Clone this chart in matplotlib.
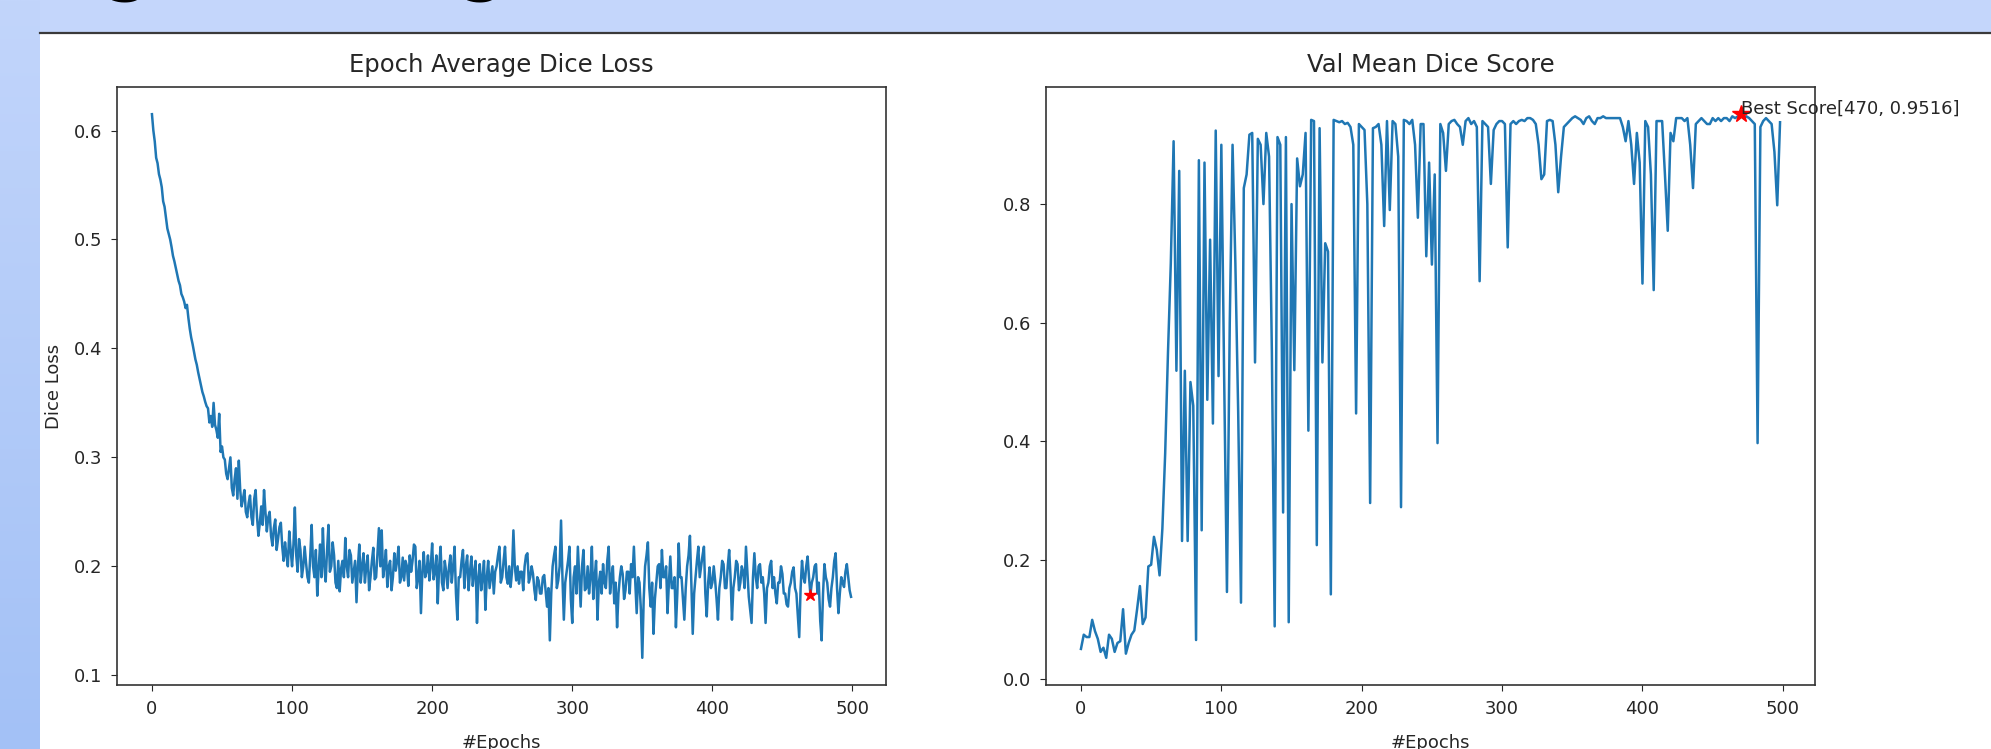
import numpy as np
import matplotlib
matplotlib.use("Agg")
import matplotlib.pyplot as plt
from matplotlib.patches import Rectangle
from matplotlib.colors import LinearSegmentedColormap

# ------------------------------------------------------------------
# data
# ------------------------------------------------------------------
train_epochs = list(range(0, 500))
val_epochs = list(range(0, 500, 2))

loss_values = [
    0.615, 0.60, 0.59, 0.575, 0.57, 0.56, 0.555, 0.548, 0.535, 0.53, 0.52, 0.51, 0.505, 0.5, 0.493, 0.485, 0.48, 0.474, 0.468, 0.462,
    0.458, 0.45, 0.447, 0.443, 0.437, 0.44, 0.428, 0.418, 0.41, 0.404, 0.397, 0.39, 0.385, 0.378, 0.372, 0.366, 0.36, 0.356, 0.351, 0.347,
    0.345, 0.332, 0.338, 0.328, 0.35, 0.33, 0.325, 0.318, 0.34, 0.305, 0.31, 0.3, 0.298, 0.285, 0.28, 0.29, 0.3, 0.272, 0.265, 0.28,
    0.29, 0.262, 0.297, 0.27, 0.255, 0.262, 0.27, 0.25, 0.245, 0.258, 0.265, 0.245, 0.238, 0.262, 0.27, 0.245, 0.228, 0.24, 0.255, 0.238,
    0.27, 0.25, 0.232, 0.245, 0.25, 0.228, 0.219, 0.235, 0.243, 0.215, 0.225, 0.236, 0.24, 0.218, 0.205, 0.222, 0.21, 0.2, 0.232, 0.215,
    0.2, 0.22, 0.254, 0.21, 0.195, 0.225, 0.215, 0.19, 0.2, 0.218, 0.203, 0.19, 0.185, 0.21, 0.238, 0.2, 0.19, 0.215, 0.173, 0.198,
    0.22, 0.19, 0.235, 0.2, 0.186, 0.215, 0.238, 0.195, 0.2, 0.222, 0.21, 0.185, 0.18, 0.205, 0.177, 0.198, 0.205, 0.19, 0.226, 0.2,
    0.19, 0.215, 0.21, 0.185, 0.195, 0.205, 0.167, 0.2, 0.22, 0.185, 0.2, 0.212, 0.185, 0.2, 0.21, 0.178, 0.19, 0.205, 0.217, 0.188,
    0.19, 0.212, 0.235, 0.2, 0.233, 0.19, 0.2, 0.215, 0.181, 0.2, 0.205, 0.178, 0.19, 0.212, 0.196, 0.205, 0.218, 0.185, 0.19, 0.208,
    0.187, 0.205, 0.2, 0.182, 0.21, 0.195, 0.205, 0.22, 0.218, 0.18, 0.19, 0.205, 0.157, 0.195, 0.213, 0.19, 0.195, 0.21, 0.187, 0.2,
    0.221, 0.188, 0.195, 0.21, 0.166, 0.2, 0.218, 0.185, 0.178, 0.205, 0.195, 0.18, 0.199, 0.21, 0.185, 0.2, 0.218, 0.175, 0.151, 0.19,
    0.19, 0.205, 0.215, 0.18, 0.2, 0.21, 0.178, 0.195, 0.209, 0.182, 0.195, 0.205, 0.148, 0.19, 0.202, 0.178, 0.19, 0.205, 0.16, 0.19,
    0.205, 0.18, 0.19, 0.2, 0.175, 0.195, 0.2, 0.21, 0.218, 0.185, 0.19, 0.205, 0.218, 0.19, 0.184, 0.2, 0.181, 0.195, 0.233, 0.2,
    0.187, 0.2, 0.184, 0.195, 0.195, 0.178, 0.2, 0.21, 0.212, 0.185, 0.19, 0.2, 0.193, 0.178, 0.169, 0.19, 0.187, 0.175, 0.175, 0.19,
    0.192, 0.178, 0.163, 0.18, 0.132, 0.175, 0.2, 0.21, 0.218, 0.18, 0.187, 0.2, 0.242, 0.19, 0.151, 0.185, 0.195, 0.205, 0.218, 0.17,
    0.148, 0.19, 0.2, 0.175, 0.218, 0.19, 0.163, 0.2, 0.215, 0.178, 0.18, 0.2, 0.175, 0.19, 0.218, 0.17, 0.19, 0.205, 0.151, 0.185,
    0.195, 0.175, 0.202, 0.185, 0.18, 0.205, 0.218, 0.175, 0.19, 0.2, 0.166, 0.185, 0.144, 0.175, 0.19, 0.2, 0.193, 0.17, 0.178, 0.195,
    0.195, 0.175, 0.202, 0.19, 0.218, 0.185, 0.157, 0.19, 0.185, 0.16, 0.116, 0.17, 0.2, 0.21, 0.222, 0.18, 0.163, 0.185, 0.138, 0.17,
    0.185, 0.2, 0.202, 0.18, 0.215, 0.19, 0.19, 0.2, 0.157, 0.185, 0.209, 0.18, 0.18, 0.19, 0.144, 0.175, 0.221, 0.19, 0.19, 0.17,
    0.151, 0.18, 0.2, 0.21, 0.228, 0.185, 0.138, 0.175, 0.19, 0.205, 0.218, 0.19, 0.2, 0.21, 0.218, 0.175, 0.154, 0.185, 0.199, 0.18,
    0.185, 0.2, 0.187, 0.17, 0.151, 0.18, 0.19, 0.205, 0.202, 0.18, 0.18, 0.2, 0.215, 0.19, 0.151, 0.18, 0.19, 0.205, 0.202, 0.178,
    0.185, 0.2, 0.195, 0.18, 0.218, 0.195, 0.172, 0.16, 0.148, 0.19, 0.212, 0.19, 0.18, 0.2, 0.202, 0.185, 0.19, 0.175, 0.148, 0.18,
    0.185, 0.2, 0.205, 0.18, 0.19, 0.175, 0.166, 0.185, 0.185, 0.2, 0.193, 0.175, 0.175, 0.165, 0.163, 0.18, 0.185, 0.195, 0.199, 0.18,
    0.175, 0.155, 0.135, 0.18, 0.205, 0.19, 0.185, 0.2, 0.209, 0.19, 0.174, 0.185, 0.19, 0.2, 0.202, 0.175, 0.185, 0.15, 0.132, 0.175,
    0.202, 0.19, 0.185, 0.17, 0.163, 0.18, 0.19, 0.205, 0.212, 0.18, 0.157, 0.175, 0.19, 0.185, 0.181, 0.195, 0.202, 0.19, 0.178, 0.172,
]

dice_values = [
    0.05, 0.074, 0.07, 0.07, 0.099, 0.08, 0.067, 0.045, 0.052, 0.035,
    0.074, 0.067, 0.045, 0.06, 0.063, 0.117, 0.042, 0.06, 0.074, 0.081,
    0.117, 0.156, 0.092, 0.103, 0.189, 0.192, 0.239, 0.217, 0.174, 0.253,
    0.38, 0.55, 0.7, 0.906, 0.519, 0.856, 0.232, 0.519, 0.232, 0.5,
    0.46, 0.065, 0.874, 0.25, 0.87, 0.47, 0.74, 0.43, 0.924, 0.51,
    0.9, 0.51, 0.146, 0.6, 0.9, 0.7, 0.45, 0.128, 0.827, 0.85,
    0.917, 0.92, 0.533, 0.91, 0.9, 0.8, 0.92, 0.88, 0.55, 0.088,
    0.913, 0.9, 0.28, 0.913, 0.095, 0.8, 0.52, 0.877, 0.83, 0.85,
    0.92, 0.418, 0.942, 0.94, 0.225, 0.928, 0.533, 0.734, 0.72, 0.142,
    0.942, 0.94, 0.938, 0.94, 0.935, 0.937, 0.93, 0.9, 0.447, 0.935,
    0.93, 0.925, 0.8, 0.296, 0.928, 0.93, 0.935, 0.9, 0.763, 0.94,
    0.79, 0.94, 0.935, 0.88, 0.289, 0.942, 0.94, 0.935, 0.942, 0.9,
    0.777, 0.935, 0.935, 0.712, 0.87, 0.698, 0.85, 0.397, 0.935, 0.92,
    0.856, 0.935, 0.94, 0.942, 0.935, 0.93, 0.9, 0.94, 0.945, 0.935,
    0.94, 0.93, 0.67, 0.94, 0.935, 0.93, 0.834, 0.925, 0.935, 0.94,
    0.94, 0.935, 0.727, 0.935, 0.94, 0.935, 0.94, 0.942, 0.94, 0.945,
    0.945, 0.942, 0.935, 0.9, 0.842, 0.85, 0.94, 0.942, 0.94, 0.9,
    0.82, 0.88, 0.93, 0.935, 0.94, 0.945, 0.948, 0.945, 0.942, 0.935,
    0.945, 0.948, 0.94, 0.935, 0.945, 0.945, 0.948, 0.945, 0.945, 0.945,
    0.945, 0.945, 0.945, 0.93, 0.906, 0.94, 0.9, 0.834, 0.92, 0.87,
    0.666, 0.94, 0.93, 0.85, 0.655, 0.94, 0.94, 0.94, 0.85, 0.755,
    0.92, 0.906, 0.945, 0.945, 0.945, 0.94, 0.945, 0.9, 0.827, 0.935,
    0.94, 0.945, 0.94, 0.935, 0.935, 0.945, 0.94, 0.945, 0.94, 0.945,
    0.945, 0.94, 0.948, 0.945, 0.948, 0.9516, 0.945, 0.948, 0.945, 0.94,
    0.935, 0.397, 0.93, 0.94, 0.945, 0.94, 0.935, 0.888, 0.798, 0.938,
]

best_epoch = 470
best_score = 0.9516

W, H = 1991, 749
LINE_BLUE = "#1f77b4"
TEXT_C = "#262626"
FS = 13


def style_axes(ax):
    for sp in ax.spines.values():
        sp.set_color("#333333")
        sp.set_linewidth(1.2)
    ax.tick_params(labelsize=FS, colors=TEXT_C, pad=6, length=4.5)


fig = plt.figure(figsize=(W / 100, H / 100), dpi=100)
fig.patch.set_facecolor("#c4d6fb")

# slide background: gradient strip at left, white content panel, rule line
bg = fig.add_axes([0, 0, 1, 1], zorder=-5)
strip_cmap = LinearSegmentedColormap.from_list("strip", ["#c2d5fb", "#a3c1f6"])
bg.imshow(np.linspace(0, 1, 256).reshape(-1, 1), cmap=strip_cmap,
          extent=(0, 40, H, 0), aspect="auto")
bg.add_patch(Rectangle((40, 34), W - 40, H - 34, facecolor="white", edgecolor="none"))
bg.plot([40, W], [33, 33], color="#3a3a3a", lw=1.6)
bg.set_xlim(0, W)
bg.set_ylim(H, 0)
bg.axis("off")

# slide heading, cut off by the top edge (only descenders visible)
for gx in (127, 482):
    fig.text(gx / W, 1 + 11.5 / H, "g", fontsize=46, fontweight="bold",
             color="black", ha="center", va="baseline")

# left: training loss
ax1 = fig.add_axes([117 / W, 64 / H, 769 / W, 598 / H])
ax1.plot(train_epochs, loss_values, color=LINE_BLUE, lw=1.8)
ax1.plot(best_epoch, loss_values[train_epochs.index(best_epoch)], "r*", ms=9)
ax1.set_title("Epoch Average Dice Loss", fontsize=17.5, pad=11, color=TEXT_C)
ax1.set_xlabel("#Epochs", fontsize=FS, labelpad=12, color=TEXT_C)
ax1.set_ylabel("Dice Loss", fontsize=FS, labelpad=8, color=TEXT_C)
style_axes(ax1)

# right: validation dice
ax2 = fig.add_axes([1046 / W, 64 / H, 769 / W, 598 / H])
ax2.plot(val_epochs, dice_values, color=LINE_BLUE, lw=1.8)
ax2.plot(best_epoch, best_score, "r*", ms=13)
ax2.text(best_epoch, best_score, f"Best Score[{best_epoch}, {best_score}]",
         fontsize=FS, color=TEXT_C)
ax2.set_title("Val Mean Dice Score", fontsize=17.5, pad=11, color=TEXT_C)
ax2.set_xlabel("#Epochs", fontsize=FS, labelpad=12, color=TEXT_C)
style_axes(ax2)

fig.savefig("out.png", dpi=100)
